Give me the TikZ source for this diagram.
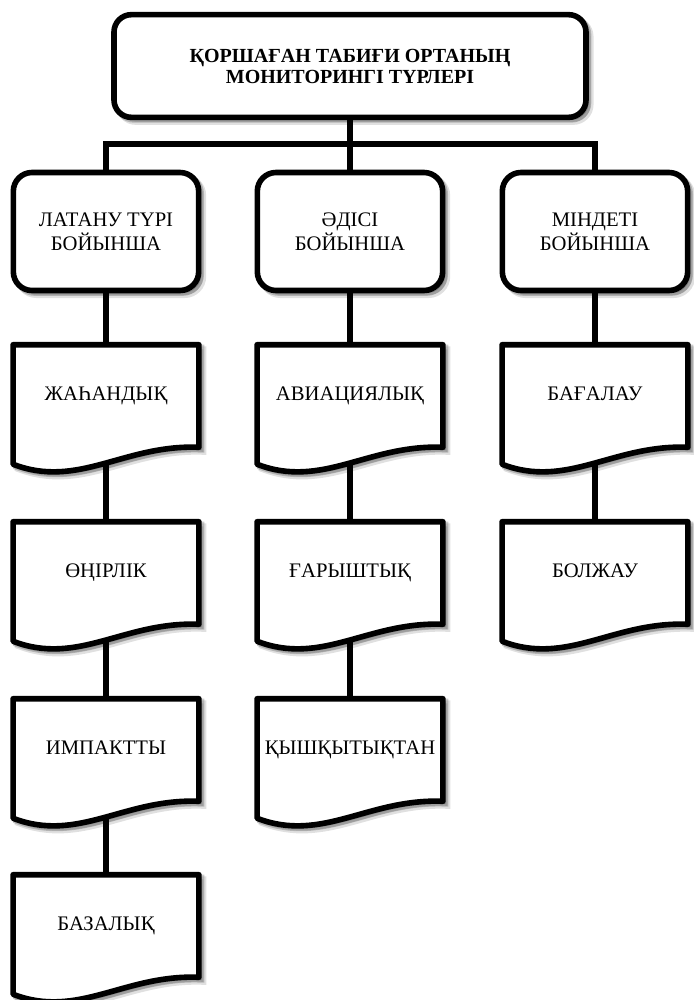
\documentclass[tikz,border=0pt]{standalone}
\usepackage{fontspec}
\setmainfont{Liberation Serif}
\usetikzlibrary{calc}
\pgfdeclarelayer{bg}
\pgfdeclarelayer{mid}
\pgfsetlayers{bg,mid,main}
\tikzset{
  softshadow/.style={
    preaction={draw=black, fill=black, opacity=0.12, line width=4.5pt,
      transform canvas={xshift=3.4pt,yshift=-3.4pt}},
    preaction={draw=black, fill=black, opacity=0.2, line width=4pt,
      transform canvas={xshift=2pt,yshift=-2pt}}},
  conn/.style={line width=3.9pt, line join=miter},
  topbox/.style={draw, fill=white, line width=4.2pt, rounded corners=13pt,
    minimum width=354pt, minimum height=77pt, align=center, softshadow,
    font=\bfseries\fontsize{15pt}{15.75pt}\selectfont},
  catbox/.style={draw, fill=white, line width=4.2pt, rounded corners=14pt,
    minimum width=139pt, minimum height=88.5pt, align=center, softshadow,
    font=\fontsize{15.5pt}{18pt}\selectfont},
  doctext/.style={minimum width=139pt, minimum height=76.5pt, inner sep=0pt,
    text height=10.5pt, text depth=3.5pt,
    align=center, font=\fontsize{15.5pt}{18pt}\selectfont},
  docshape/.style={draw, fill=white, line width=4.2pt, line join=round, softshadow}
}
\newcommand{\docdraw}[1]{%
  \begin{pgfonlayer}{mid}
  \path[docshape] (#1.north west) -- (#1.north east) -- (#1.south east)
    .. controls ($(#1.south west)+(111,-3)$) and ($(#1.south west)+(65,42)$)
    .. ($(#1.south west)+(0,17)$) -- cycle;
  \end{pgfonlayer}}
\begin{document}
\begin{tikzpicture}[x=0.75pt,y=-0.75pt]
\useasboundingbox (0,0) rectangle (693,1000);

\node[topbox] (top) at (350,66) {ҚОРШАҒАН ТАБИҒИ ОРТАНЫҢ\\МОНИТОРИНГІ ТҮРЛЕРІ};
\coordinate (bus) at (350,144);

\node[catbox] (bL) at (106,231.5) {ЛАТАНУ ТҮРІ\\БОЙЫНША};
\node[catbox] (bM) at (350,231.5) {ӘДІСІ\\БОЙЫНША};
\node[catbox] (bR) at (595,231.5) {МІНДЕТІ\\БОЙЫНША};

\node[doctext] (dL1) at (106,396) {ЖАҺАНДЫҚ};
\node[doctext] (dL2) at (106,573) {ӨҢІРЛІК};
\node[doctext] (dL3) at (106,750) {ИМПАКТТЫ};
\node[doctext] (dL4) at (106,926) {БАЗАЛЫҚ};

\node[doctext] (dM1) at (350,396) {АВИАЦИЯЛЫҚ};
\node[doctext] (dM2) at (350,573) {ҒАРЫШТЫҚ};
\node[doctext] (dM3) at (350,750) {ҚЫШҚЫТЫҚТАН};

\node[doctext] (dR1) at (595,396) {БАҒАЛАУ};
\node[doctext] (dR2) at (595,573) {БОЛЖАУ};

\docdraw{dL1}\docdraw{dL2}\docdraw{dL3}\docdraw{dL4}
\docdraw{dM1}\docdraw{dM2}\docdraw{dM3}
\docdraw{dR1}\docdraw{dR2}

\begin{pgfonlayer}{bg}
\draw[conn] (top) -- (bus);
\draw[conn] (bL) |- (bus) -| (bR);
\draw[conn] (bus) -- (bM);
\draw[conn] (bL) -- (dL1) -- (dL2) -- (dL3) -- (dL4);
\draw[conn] (bM) -- (dM1) -- (dM2) -- (dM3);
\draw[conn] (bR) -- (dR1) -- (dR2);
\end{pgfonlayer}
\end{tikzpicture}
\end{document}
